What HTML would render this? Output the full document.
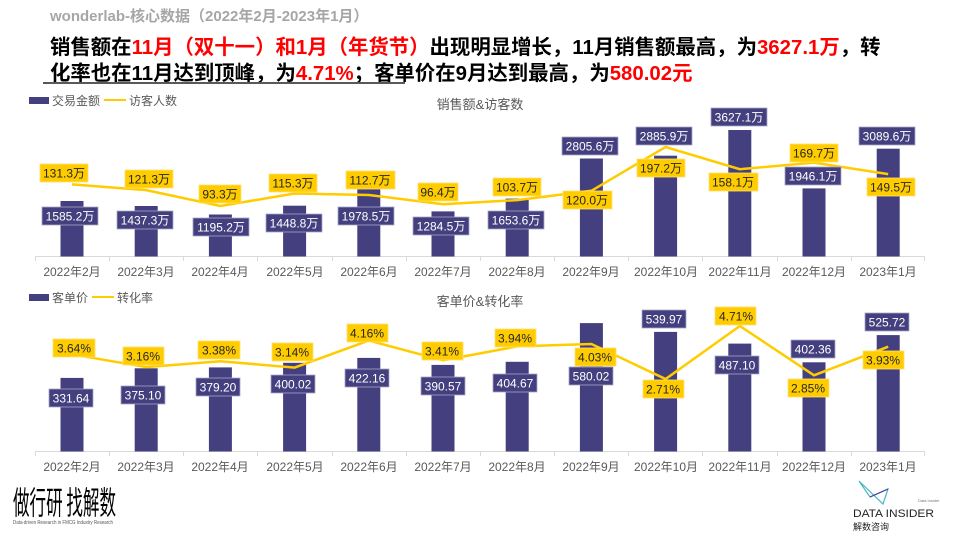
<!DOCTYPE html>
<html><head><meta charset="utf-8">
<style>
html,body{margin:0;padding:0;background:#fff;}
body{width:960px;height:540px;overflow:hidden;position:relative;font-family:"Liberation Sans","Noto Sans CJK SC",sans-serif;}
.t{position:absolute;white-space:nowrap;}
</style></head><body>
<div class="t" style="left:50px;top:5px;font-size:15px;font-weight:bold;color:#a6a6a6;">wonderlab-核心数据（2022年2月-2023年1月）</div>
<div class="t" style="left:50px;top:35px;font-size:20.4px;font-weight:bold;color:#000;line-height:26px;">销售额在<span style="color:#f00">11月（双十一）和1月（年货节）</span>出现明显增长，11月销售额最高，为<span style="color:#f00">3627.1万</span>，转<br>化率也在11月达到顶峰，为<span style="color:#f00">4.71%</span>；客单价在9月达到最高，为<span style="color:#f00">580.02元</span></div>
<div style="position:absolute;left:43px;top:82px;width:362px;height:2px;background:#595959;"></div>

<svg width="960" height="540" style="position:absolute;left:0;top:0" font-family="Liberation Sans, Noto Sans CJK SC, sans-serif">
<rect x="29" y="97" width="20" height="7" fill="#443F7F"/>
<text x="52" y="105" font-size="12" fill="#595959">交易金额</text>
<line x1="104" y1="100" x2="126" y2="100" stroke="#FFCC00" stroke-width="2"/>
<text x="129" y="105" font-size="12" fill="#595959">访客人数</text>
<text x="480" y="109" font-size="13" fill="#595959" text-anchor="middle">销售额&amp;访客数</text>

<rect x="29" y="294" width="20" height="7" fill="#443F7F"/>
<text x="52" y="302" font-size="12" fill="#595959">客单价</text>
<line x1="92" y1="297" x2="114" y2="297" stroke="#FFCC00" stroke-width="2"/>
<text x="117" y="302" font-size="12" fill="#595959">转化率</text>
<text x="480" y="306" font-size="13" fill="#595959" text-anchor="middle">客单价&amp;转化率</text>

<g stroke="#d9d9d9" stroke-width="1">
<line x1="35" y1="256.5" x2="925" y2="256.5"/>
<line x1="35" y1="451.5" x2="925" y2="451.5"/>
<path d="M35.5 256v5M109.5 256v5M183.5 256v5M257.5 256v5M332.5 256v5M406.5 256v5M480.5 256v5M554.5 256v5M628.5 256v5M702.5 256v5M777.5 256v5M851.5 256v5M924.5 256v5"/>
<path d="M35.5 451v5M109.5 451v5M183.5 451v5M257.5 451v5M332.5 451v5M406.5 451v5M480.5 451v5M554.5 451v5M628.5 451v5M702.5 451v5M777.5 451v5M851.5 451v5M924.5 451v5"/>
</g>
<g font-size="12" fill="#595959" text-anchor="middle">
<text x="72" y="276">2022年2月</text><text x="146" y="276">2022年3月</text><text x="220" y="276">2022年4月</text><text x="295" y="276">2022年5月</text><text x="369" y="276">2022年6月</text><text x="443" y="276">2022年7月</text><text x="517" y="276">2022年8月</text><text x="591" y="276">2022年9月</text><text x="666" y="276">2022年10月</text><text x="740" y="276">2022年11月</text><text x="814" y="276">2022年12月</text><text x="888" y="276">2023年1月</text>
<text x="72" y="471">2022年2月</text><text x="146" y="471">2022年3月</text><text x="220" y="471">2022年4月</text><text x="295" y="471">2022年5月</text><text x="369" y="471">2022年6月</text><text x="443" y="471">2022年7月</text><text x="517" y="471">2022年8月</text><text x="591" y="471">2022年9月</text><text x="666" y="471">2022年10月</text><text x="740" y="471">2022年11月</text><text x="814" y="471">2022年12月</text><text x="888" y="471">2023年1月</text>
</g>

<g fill="#443F7F">
<rect x="60.5" y="201" width="23" height="55.5"/>
<rect x="134.7" y="206" width="23" height="50.5"/>
<rect x="208.9" y="214.5" width="23" height="42"/>
<rect x="283.1" y="205.7" width="23" height="50.8"/>
<rect x="357.3" y="187.3" width="23" height="69.2"/>
<rect x="431.5" y="211.4" width="23" height="45.1"/>
<rect x="505.7" y="198.6" width="23" height="57.9"/>
<rect x="579.9" y="158.5" width="23" height="98"/>
<rect x="654.1" y="155.7" width="23" height="100.8"/>
<rect x="728.3" y="130" width="23" height="126.5"/>
<rect x="802.5" y="188.4" width="23" height="68.1"/>
<rect x="876.7" y="148.7" width="23" height="107.8"/>
</g>
<polyline fill="none" stroke="#FFCC00" stroke-width="2.5" points="72,184.4 146.2,190.1 220.4,206 294.6,193.5 368.8,195 443,204.2 517.2,200.1 591.4,190.8 665.6,147 739.8,169.2 814,162.6 888.2,174.1"/>

<g fill="#443F7F" stroke="#a9a6c8" stroke-width="0.8">
<rect x="42" y="207" width="56" height="18"/><rect x="117" y="211" width="56" height="18"/><rect x="193" y="218" width="56" height="18"/><rect x="266" y="214" width="56" height="18"/><rect x="338" y="207" width="56" height="18"/><rect x="413" y="217" width="56" height="18"/><rect x="488" y="211" width="56" height="18"/><rect x="562" y="137" width="56" height="18"/><rect x="636" y="127" width="56" height="18"/><rect x="711" y="108" width="56" height="18"/><rect x="785" y="167" width="56" height="18"/><rect x="859" y="127" width="56" height="18"/>
</g>
<g font-size="12" fill="#fff" text-anchor="middle">
<text x="70" y="220.5">1585.2万</text><text x="145" y="224.5">1437.3万</text><text x="221" y="231.5">1195.2万</text><text x="294" y="227.5">1448.8万</text><text x="366" y="220.5">1978.5万</text><text x="441" y="230.5">1284.5万</text><text x="516" y="224.5">1653.6万</text><text x="590" y="150.5">2805.6万</text><text x="664" y="140.5">2885.9万</text><text x="739" y="121.5">3627.1万</text><text x="813" y="180.5">1946.1万</text><text x="887" y="140.5">3089.6万</text>
</g>
<g fill="#FFCC00" stroke="#ffe070" stroke-width="0.8">
<rect x="40" y="164" width="48" height="18"/><rect x="125" y="170" width="48" height="18"/><rect x="199" y="185" width="42" height="18"/><rect x="269" y="174" width="48" height="18"/><rect x="346" y="171" width="49" height="18"/><rect x="418" y="183" width="40" height="18"/><rect x="493" y="178" width="48" height="18"/><rect x="563" y="191" width="49" height="18"/><rect x="637" y="159" width="48" height="18"/><rect x="709" y="173" width="49" height="18"/><rect x="790" y="144" width="48" height="18"/><rect x="867" y="178" width="48" height="18"/>
</g>
<g font-size="12" fill="#262626" text-anchor="middle">
<text x="64" y="177.5">131.3万</text><text x="149" y="183.5">121.3万</text><text x="220" y="198.5">93.3万</text><text x="293" y="187.5">115.3万</text><text x="370" y="184.5">112.7万</text><text x="438" y="196.5">96.4万</text><text x="517" y="191.5">103.7万</text><text x="587" y="204.5">120.0万</text><text x="661" y="172.5">197.2万</text><text x="733" y="186.5">158.1万</text><text x="814" y="157.5">169.7万</text><text x="891" y="191.5">149.5万</text>
</g>

<g fill="#443F7F">
<rect x="60.5" y="377.9" width="23" height="73.6"/>
<rect x="134.7" y="368.3" width="23" height="83.2"/>
<rect x="208.9" y="367.4" width="23" height="84.1"/>
<rect x="283.1" y="362.8" width="23" height="88.7"/>
<rect x="357.3" y="357.9" width="23" height="93.6"/>
<rect x="431.5" y="364.9" width="23" height="86.6"/>
<rect x="505.7" y="361.8" width="23" height="89.7"/>
<rect x="579.9" y="323.1" width="23" height="128.4"/>
<rect x="654.1" y="331.9" width="23" height="119.6"/>
<rect x="728.3" y="343.6" width="23" height="107.9"/>
<rect x="802.5" y="362.3" width="23" height="89.2"/>
<rect x="876.7" y="335.1" width="23" height="116.4"/>
</g>
<polyline fill="none" stroke="#FFCC00" stroke-width="2.5" points="72,354.3 146.2,367.1 220.4,361.2 294.6,367.6 368.8,340.6 443,360.4 517.2,346.4 591.4,344 665.6,379 739.8,326 814,375.3 888.2,346.7"/>

<g fill="#443F7F" stroke="#a9a6c8" stroke-width="0.8">
<rect x="49" y="389" width="44" height="18"/><rect x="121" y="386" width="44" height="18"/><rect x="196" y="378" width="44" height="18"/><rect x="271" y="375" width="44" height="18"/><rect x="345" y="369" width="44" height="18"/><rect x="421" y="377" width="44" height="18"/><rect x="493" y="374" width="44" height="18"/><rect x="569" y="367" width="44" height="18"/><rect x="642" y="310" width="44" height="18"/><rect x="715" y="356" width="44" height="18"/><rect x="791" y="340" width="44" height="18"/><rect x="865" y="313" width="44" height="18"/>
</g>
<g font-size="12" fill="#fff" text-anchor="middle">
<text x="71" y="402.5">331.64</text><text x="143" y="399.5">375.10</text><text x="218" y="391.5">379.20</text><text x="293" y="388.5">400.02</text><text x="367" y="382.5">422.16</text><text x="443" y="390.5">390.57</text><text x="515" y="387.5">404.67</text><text x="591" y="380.5">580.02</text><text x="664" y="323.5">539.97</text><text x="737" y="369.5">487.10</text><text x="813" y="353.5">402.36</text><text x="887" y="326.5">525.72</text>
</g>
<g fill="#FFCC00" stroke="#ffe070" stroke-width="0.8">
<rect x="53" y="339" width="42" height="18"/><rect x="123" y="347" width="41" height="18"/><rect x="198" y="341" width="42" height="18"/><rect x="272" y="343" width="41" height="18"/><rect x="347" y="324" width="41" height="18"/><rect x="422" y="342" width="41" height="18"/><rect x="495" y="329" width="41" height="18"/><rect x="575" y="348" width="41" height="18"/><rect x="643" y="380" width="41" height="18"/><rect x="715" y="307" width="41" height="18"/><rect x="788" y="379" width="41" height="18"/><rect x="863" y="351" width="41" height="18"/>
</g>
<g font-size="12" fill="#262626" text-anchor="middle">
<text x="74" y="352.5">3.64%</text><text x="143" y="360.5">3.16%</text><text x="219" y="354.5">3.38%</text><text x="292" y="356.5">3.14%</text><text x="367" y="337.5">4.16%</text><text x="442" y="355.5">3.41%</text><text x="515" y="342.5">3.94%</text><text x="595" y="361.5">4.03%</text><text x="663" y="393.5">2.71%</text><text x="736" y="320.5">4.71%</text><text x="808" y="392.5">2.85%</text><text x="883" y="364.5">3.93%</text>
</g>

<text x="13" y="514" font-size="32" fill="#000" textLength="103" lengthAdjust="spacingAndGlyphs" font-family="Noto Sans CJK SC, sans-serif">做行研 找解数</text>
<text x="13" y="524" font-size="5" fill="#555" textLength="100" lengthAdjust="spacingAndGlyphs">Data-driven Research in FMCG Industry Research</text>
<polyline points="859,481 870,497 888,489 883,504 859,481" fill="none" stroke="#4ab5c4" stroke-width="1.2"/>
<line x1="870" y1="497" x2="888" y2="489" stroke="#4a3fa0" stroke-width="1.2"/>
<text x="918" y="502" font-size="4" fill="#777">Data Insider</text>
<text x="853" y="517" font-size="11" fill="#222" textLength="81" lengthAdjust="spacingAndGlyphs">DATA INSIDER</text>
<text x="853" y="530" font-size="9" fill="#222" font-family="Noto Sans CJK SC, sans-serif">解数咨询</text>
</svg>
</body></html>
